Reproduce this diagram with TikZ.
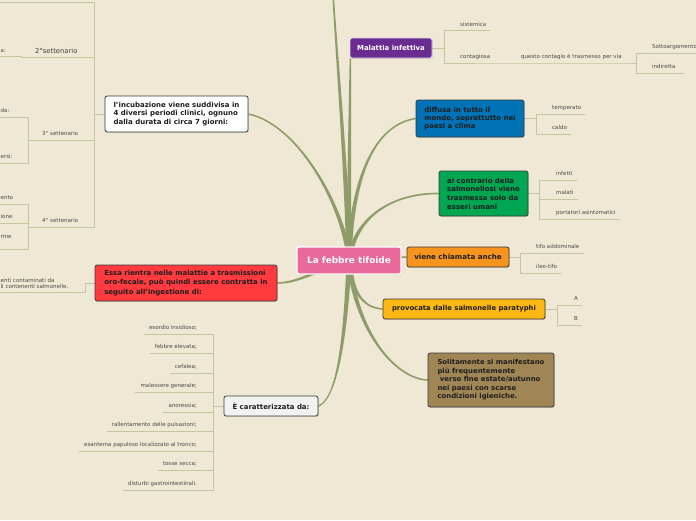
\documentclass[tikz,border=0pt]{standalone}
\usepackage{fontspec}
\setmainfont{DejaVu Sans}
\usetikzlibrary{shadows}
\pgfdeclarelayer{back0}
\pgfdeclarelayer{background}
\pgfsetlayers{back0,background,main}
\definecolor{bg}{HTML}{EEE8D4}
\definecolor{mainbr}{HTML}{8E9C6A}
\definecolor{thinbr}{HTML}{C3C7A0}
\definecolor{lbltext}{HTML}{4A4A4A}
\definecolor{pinkc}{HTML}{E8699A}
\definecolor{purplec}{HTML}{6A2C91}
\definecolor{bluec}{HTML}{0072B5}
\definecolor{greenc}{HTML}{00A651}
\definecolor{orangec}{HTML}{F7941E}
\definecolor{yellowc}{HTML}{FDB813}
\definecolor{brownc}{HTML}{A08654}
\definecolor{redc}{HTML}{FF3B40}
\definecolor{grayc}{HTML}{F2F2F2}
\definecolor{borderc}{HTML}{3A3A3A}
\definecolor{darktext}{HTML}{1E1E1E}
\newcommand\fsz[2]{\fontsize{#1}{#2}\selectfont}
% tapered main branches
\newcommand\tapVH[6]{\fill[mainbr] ([xshift={(#5)*2.5pt}]#1) .. controls ([xshift={(#5)*1.9pt}]#2) and ([yshift={(#6)*1.1pt}]#3) .. ([yshift={(#6)*0.75pt}]#4) -- ([yshift={0-(#6)*0.75pt}]#4) .. controls ([yshift={0-(#6)*1.1pt}]#3) and ([xshift={0-(#5)*1.9pt}]#2) .. ([xshift={0-(#5)*2.5pt}]#1) -- cycle;}
\newcommand\tapHH[4]{\fill[mainbr] ([yshift=2.5pt]#1) .. controls ([yshift=1.9pt]#2) and ([yshift=1.1pt]#3) .. ([yshift=0.75pt]#4) -- ([yshift=-0.75pt]#4) .. controls ([yshift=-1.1pt]#3) and ([yshift=-1.9pt]#2) .. ([yshift=-2.5pt]#1) -- cycle;}
\newcommand\tapVV[4]{\fill[mainbr] ([xshift=2.5pt]#1) .. controls ([xshift=1.9pt]#2) and ([xshift=1.1pt]#3) .. ([xshift=0.75pt]#4) -- ([xshift=-0.75pt]#4) .. controls ([xshift=-1.1pt]#3) and ([xshift=-1.9pt]#2) .. ([xshift=-2.5pt]#1) -- cycle;}
\tikzset{
 topic/.style={draw=borderc, line width=0.8pt, rounded corners=2.2pt, inner xsep=4pt, inner ysep=0pt, text=darktext, align=left,
   drop shadow={shadow xshift=0.7pt,shadow yshift=-0.7pt,opacity=0.35}},
 lbl/.style={inner sep=0pt, text=lbltext, font=\fsz{5.5}{6.5}},
 lblr/.style={lbl, anchor=base west},
 lbll/.style={lbl, anchor=base east},
 br/.style={draw=thinbr, line width=0.9pt},
}
\begin{document}
\begin{tikzpicture}[x=1pt,y=-1pt]
\begin{pgfonlayer}{back0}
\fill[bg] (0,0) rectangle (696,520);
\end{pgfonlayer}
\useasboundingbox (0,0) rectangle (696,520);

% ---------- topic nodes ----------
\node[topic, fill=pinkc, draw=white, line width=1.2pt, text=white, minimum width=104pt, minimum height=27pt, font=\fsz{8.9}{10}\bfseries] (ctr) at (349,260.5) {La febbre tifoide};
\node[topic, fill=purplec, draw=white!80!purplec, text=white, minimum width=82pt, minimum height=20pt, font=\fsz{6.9}{8}\bfseries] (mal) at (391,48) {Malattia infettiva};
\node[topic, fill=bluec, minimum width=108pt, minimum height=37pt, font=\fsz{6.95}{8.3}\bfseries] (dif) at (470,118.5) {diffusa in tutto il\\mondo, soprattutto nei\\paesi a clima};
\node[topic, fill=greenc, minimum width=89pt, minimum height=45pt, font=\fsz{6.95}{8.7}\bfseries] (alc) at (483.5,193.5) {al contrario della\\salmonellosi viene\\trasmessa solo da\\esseri umani};
\node[topic, fill=orangec, minimum width=102pt, minimum height=20pt, font=\fsz{7.1}{8}\bfseries] (vie) at (458,257) {viene chiamata anche};
\node[topic, fill=yellowc, minimum width=162pt, minimum height=20pt, font=\fsz{6.85}{8}\bfseries] (pro) at (464,309) {provocata dalle salmonelle paratyphi};
\node[topic, fill=brownc, minimum width=126pt, minimum height=54pt, font=\fsz{6.9}{8.5}\bfseries] (sol) at (491,380) {Solitamente si manifestano\\più frequentemente\\\mbox{}\ verso fine estate/autunno\\nei paesi con scarse\\condizioni igieniche.};
\node[topic, fill=grayc, minimum width=94pt, minimum height=20pt, font=\fsz{6.95}{8}\bfseries] (car) at (271,406) {È caratterizzata da:};
\node[topic, fill=redc, minimum width=182pt, minimum height=36pt, font=\fsz{6.95}{9.2}\bfseries] (ess) at (186,283) {Essa rientra nelle malattie a trasmissioni\\oro-fecale, può quindi essere contratta in\\seguito all'ingestione di:};
\node[topic, fill=white, minimum width=143pt, minimum height=36pt, font=\fsz{7}{8.1}\bfseries] (inc) at (176.5,114) {l'incubazione viene suddivisa in\\4 diversi periodi clinici, ognuno\\dalla durata di circa 7 giorni:};

% ---------- labels ----------
\node[lblr] (sis) at (460,26.2) {sistemica};
\node[lblr] (cont) at (460,58.5) {contagiosa};
\node[lblr] (quest) at (521,58.5) {questo contagio è trasmesso per via};
\node[lblr] (sott) at (652,48.5) {Sottoargomento};
\node[lblr] (ind) at (652,68.5) {indiretta};
\node[lblr] (temp) at (552,109.5) {temperato};
\node[lblr] (caldo) at (552,129.5) {caldo};
\node[lblr] (inf) at (556,175.5) {infetti};
\node[lblr] (mlt) at (556,194.5) {malati};
\node[lblr] (port) at (556,214.5) {portatori asintomatici};
\node[lblr] (tifo) at (536,248.5) {tifo addominale};
\node[lblr] (ileo) at (536,268.5) {ileo-tifo};
\node[lblr] (la) at (574,300.5) {A};
\node[lblr] (lb) at (574,320.5) {B};

\node[lbll] (c1) at (197,329.5) {esordio insidioso;};
\node[lbll] (c2) at (197,348.5) {febbre elevata;};
\node[lbll] (c3) at (197,368.5) {cefalea;};
\node[lbll] (c4) at (197,387.5) {malessere generale;};
\node[lbll] (c5) at (197,407.5) {anoressia;};
\node[lbll] (c6) at (197,426.5) {rallentamento delle pulsazioni;};
\node[lbll] (c7) at (197,446.5) {esantema papuloso localizzato al tronco;};
\node[lbll] (c8) at (197,465.5) {tosse secca;};
\node[lbll] (c9) at (197,485.5) {disturbi gastrointestinali.};

\node[lblr] (e1) at (0.5,282.2) {enti contaminati da};
\node[lblr] (e2) at (0.5,288.6) {li contenenti salmonelle.};

\node[lblr, font=\fsz{6.8}{7.5}, text=black!75] (s2) at (35,53.2) {2°settenario};
\node[lblr] (s2c) at (0.5,52.6) {a:};
\node[lblr] (s3) at (42,135.8) {3° settenario};
\node[lblr] (s3c1) at (0.5,112.5) {da:};
\node[lblr] (s3c2) at (0.5,158.6) {ersi:};
\node[lblr] (s4) at (42,222.6) {4° settenario};
\node[lblr] (s4c1) at (0.5,199.8) {ento};
\node[lblr] (s4c2) at (0.5,218.8) {ione};
\node[lblr] (s4c3) at (0.5,238.5) {rme};

% ---------- coordinates ----------
\coordinate (malend) at ([xshift=0.8pt]mal.south west);
\coordinate (malb) at (444,48);
\coordinate (qb) at (636,63);
\coordinate (difb) at (536,118.5);
\coordinate (alcb) at (539,193.5);
\coordinate (vieb) at (520,257);
\coordinate (prob) at (557,309);
\coordinate (carb) at (213,406);
\coordinate (essb) at (85,283);
\coordinate (esse) at (-2,292);
\coordinate (incb) at (94,114);
\coordinate (s1e) at (-2,2);
\coordinate (s2b) at (21,57.5);
\coordinate (s2e) at (-2,56.7);
\coordinate (s3b) at (28,140);
\coordinate (s3e1) at (-2,117);
\coordinate (s3e2) at (-2,163);
\coordinate (s4b) at (28,227);
\coordinate (s4e1) at (-2,204);
\coordinate (s4e2) at (-2,223);
\coordinate (s4e3) at (-2,249);
\coordinate (topend) at (333,-6);

\begin{pgfonlayer}{background}
% main branches
\tapVV{ctr.center}{345,150}{337,60}{topend}
\tapVV{ctr.center}{349,180}{350,100}{malend}
\tapVH{ctr.center}{352,175}{375,125}{dif.west}{-1}{1}
\tapVH{ctr.center}{355,215}{395,193}{alc.west}{-1}{1}
\tapHH{ctr.center}{380,261}{395,257}{vie.west}
\tapVH{ctr.center}{352,295}{365,308}{pro.west}{-1}{-1}
\tapVH{ctr.center}{355,330}{395,379}{sol.west}{-1}{-1}
\tapVH{ctr.center}{345,350}{335,400}{car.east}{1}{-1}
\tapHH{ctr.center}{320,268}{300,283}{ess.east}
\tapVH{ctr.center}{345,210}{300,125}{inc.east}{1}{1}

% thin branches, right side
\draw[br] (mal.east) -- (malb);
\draw[br] (malb) |- ([xshift=4pt,yshift=-4.5pt]sis.base east);
\draw[br] (malb) |- ([xshift=15pt,yshift=-4.5pt]cont.base east) -- ([xshift=4pt,yshift=-4.5pt]quest.base east) -- (qb);
\draw[br] (qb) |- ([xshift=8pt,yshift=-4.5pt]sott.base east);
\draw[br] (qb) |- ([xshift=8pt,yshift=-4.5pt]ind.base east);

\draw[br] (dif.east) -- (difb);
\draw[br] (difb) |- ([xshift=4pt,yshift=-4.5pt]temp.base east);
\draw[br] (difb) |- ([xshift=4pt,yshift=-4.5pt]caldo.base east);

\draw[br] (alc.east) -- (alcb);
\draw[br] (alcb) |- ([xshift=4pt,yshift=-4.5pt]inf.base east);
\draw[br] (alcb) |- ([xshift=4pt,yshift=-4.5pt]mlt.base east);
\draw[br] (alcb) |- ([xshift=4pt,yshift=-4.5pt]port.base east);

\draw[br] (vie.east) -- (vieb);
\draw[br] (vieb) |- ([xshift=4pt,yshift=-4.5pt]tifo.base east);
\draw[br] (vieb) |- ([xshift=4pt,yshift=-4.5pt]ileo.base east);

\draw[br] (pro.east) -- (prob);
\draw[br] (prob) |- ([xshift=4pt,yshift=-4.5pt]la.base east);
\draw[br] (prob) |- ([xshift=4pt,yshift=-4.5pt]lb.base east);

% thin branches, left side
\draw[br] (car.west) -- (carb);
\foreach \n in {c1,c2,c3,c4,c5,c6,c7,c8,c9}
  \draw[br] (carb) |- ([xshift=-5pt,yshift=-4.5pt]\n.base west);

\draw[br] (ess.west) -- (essb) |- (esse);

\draw[br] (inc.west) -- (incb);
\draw[br] (incb) |- (s1e);
\draw[br] (incb) |- (s2b) -- ([yshift=0.8pt]s2b) -- (s2e);
\draw[br] (incb) |- (s3b);
\draw[br] (s3b) |- (s3e1);
\draw[br] (s3b) |- (s3e2);
\draw[br] (incb) |- (s4b);
\draw[br] (s4b) |- (s4e1);
\draw[br] (s4b) |- (s4e2);
\draw[br] (s4b) |- (s4e3);
\end{pgfonlayer}
\end{tikzpicture}
\end{document}
